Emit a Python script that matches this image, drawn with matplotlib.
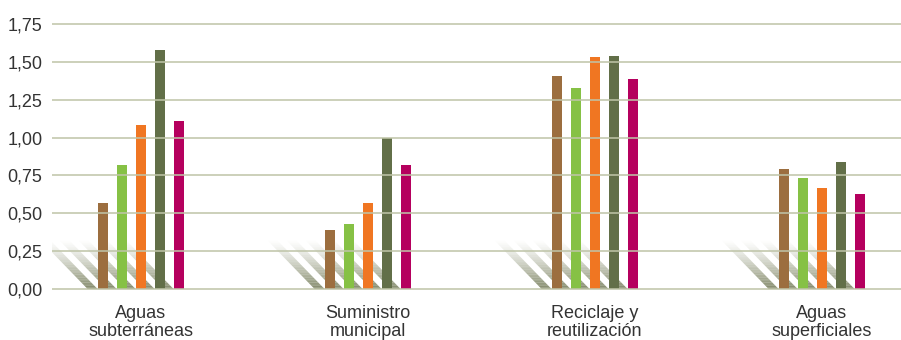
import numpy as np
import matplotlib.pyplot as plt
from matplotlib.patches import Polygon

categories = ["Aguas\nsubterráneas", "Suministro\nmunicipal", "Reciclaje y\nreutilización", "Aguas\nsuperficiales"]
serie_1 = [0.57, 0.39, 1.41, 0.79]
serie_2 = [0.82, 0.43, 1.33, 0.73]
serie_3 = [1.08, 0.57, 1.53, 0.67]
serie_4 = [1.58, 1.00, 1.54, 0.84]
serie_5 = [1.11, 0.82, 1.39, 0.63]
y_ticks = [0, 0.25, 0.5, 0.75, 1.0, 1.25, 1.5, 1.75]
colors = ["#9c6e3f", "#86c145", "#f07622", "#626f48", "#b5005e"]


def main():
    plt.rcParams["font.family"] = ["Liberation Sans", "DejaVu Sans"]
    fig = plt.figure(figsize=(9.01, 3.40), dpi=100)
    ax = fig.add_axes([52 / 901, 48 / 340, 849 / 901, 272.5 / 340])

    series = [serie_1, serie_2, serie_3, serie_4, serie_5]
    x = np.arange(len(categories))
    pitch = 0.0837
    width = 0.048

    # diagonal "shadow" stripes behind each bar
    sh_h, sh_dx, sh_w, n = 0.32, 0.207, 0.044, 30
    for gx in x:
        for i in range(len(series)):
            left = gx + (i - 2) * pitch - width / 2
            for k in range(n):
                y0, y1 = sh_h * k / n, sh_h * (k + 1) / n
                o0, o1 = sh_dx * y0 / sh_h, sh_dx * y1 / sh_h
                poly = Polygon([(left - sh_w - o0, y0), (left - o0, y0),
                                (left - o1, y1), (left - sh_w - o1, y1)],
                               closed=True, facecolor="#6f7752", edgecolor="none",
                               alpha=0.85 * (1 - k / n) ** 1.3, zorder=1)
                ax.add_patch(poly)

    for i, (vals, c) in enumerate(zip(series, colors)):
        ax.bar(x + (i - 2) * pitch, vals, width=width, color=c, zorder=2)

    for t in y_ticks:
        ax.axhline(t, color="#bfc4a8", lw=1.4, alpha=0.8, zorder=3)

    ax.set_xlim(-0.392, 3.348)
    ax.set_ylim(-0.02, 1.78)
    ax.set_yticks(y_ticks)
    ax.set_yticklabels([f"{t:.2f}".replace(".", ",") for t in y_ticks])
    ax.set_xticks(x)
    ax.set_xticklabels(categories, linespacing=1.1)
    ax.tick_params(length=0, labelsize=13, colors="#333333")
    ax.tick_params(axis="y", pad=7)
    ax.tick_params(axis="x", pad=9)
    for s in ax.spines.values():
        s.set_visible(False)

    fig.savefig("out.png", dpi=100)


if __name__ == "__main__":
    main()
